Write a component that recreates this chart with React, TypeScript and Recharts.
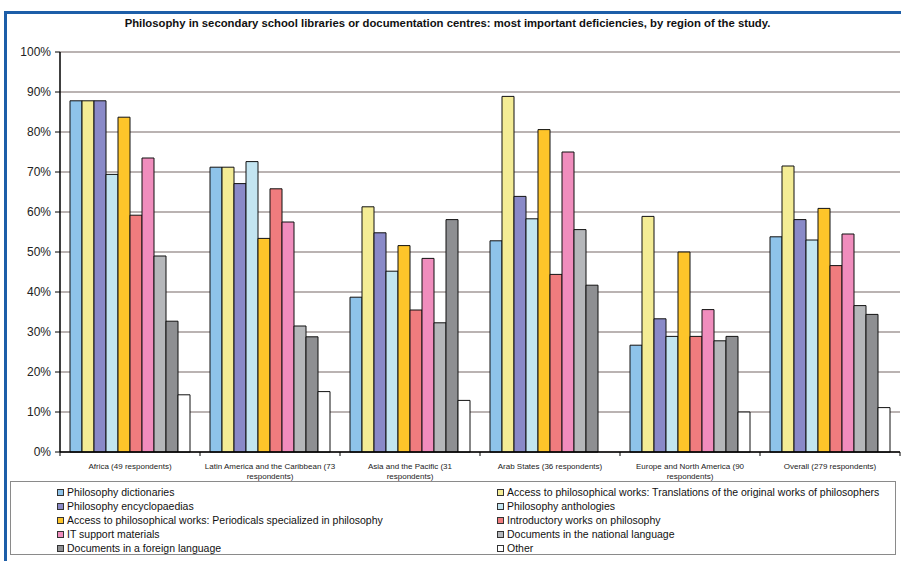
import React from "react";
import { BarChart, Bar, XAxis, YAxis, CartesianGrid } from "recharts";

const regions = [
  "Africa",
  "Latin America and the Caribbean",
  "Asia and the Pacific",
  "Arab States",
  "Europe and North America",
  "Overall",
];

// axis labels as printed, already wrapped the way the original wraps them
const regionLabels = [
  ["Africa (49 respondents)"],
  ["Latin America and the Caribbean (73", "respondents)"],
  ["Asia and the Pacific (31", "respondents)"],
  ["Arab States (36 respondents)"],
  ["Europe and North America (90", "respondents)"],
  ["Overall (279 respondents)"],
];

const yTicks = [0, 10, 20, 30, 40, 50, 60, 70, 80, 90, 100];

const seriesNames = [
  "Philosophy dictionaries",
  "Access to philosophical works: Translations of the original works of philosophers",
  "Philosophy encyclopaedias",
  "Philosophy anthologies",
  "Access to philosophical works: Periodicals specialized in philosophy",
  "Introductory works on philosophy",
  "IT support materials",
  "Documents in the national language",
  "Documents in a foreign language",
  "Other",
];

const dictionaries = [87.8, 71.2, 38.7, 52.8, 26.7, 53.8];
const translations = [87.8, 71.2, 61.3, 88.9, 58.9, 71.5];
const encyclopaedias = [87.8, 67.1, 54.8, 63.9, 33.3, 58.1];
const anthologies = [69.4, 72.6, 45.2, 58.3, 28.9, 53.0];
const periodicals = [83.7, 53.4, 51.6, 80.6, 50.0, 60.9];
const introductory = [59.2, 65.8, 35.5, 44.4, 28.9, 46.6];
const itSupport = [73.5, 57.5, 48.4, 75.0, 35.6, 54.5];
const nationalLang = [49.0, 31.5, 32.3, 55.6, 27.8, 36.6];
const foreignLang = [32.7, 28.8, 58.1, 41.7, 28.9, 34.4];
const other = [14.3, 15.1, 12.9, 0, 10.0, 11.1];

const seriesValues = [
  dictionaries,
  translations,
  encyclopaedias,
  anthologies,
  periodicals,
  introductory,
  itSupport,
  nationalLang,
  foreignLang,
  other,
];

const seriesColors = [
  "#8ec3ea",
  "#f4ec95",
  "#8a8ac8",
  "#c3e5f1",
  "#fec52a",
  "#f07c7e",
  "#f08dbd",
  "#b5b7ba",
  "#8e8f92",
  "#ffffff",
];

const FONT = "'Liberation Sans', Arial, sans-serif";
const CHART_W = 901;
const CHART_H = 561;
const PLOT_LEFT = 60;
const PLOT_RIGHT = 1;
const BAND = (CHART_W - PLOT_LEFT - PLOT_RIGHT) / regions.length;

const data = regions.map((region, i) => {
  const row: Record<string, string | number> = { region };
  seriesValues.forEach((vals, s) => {
    row[`s${s}`] = vals[i];
  });
  return row;
});

function RegionTick(props: any) {
  const { x, y, index } = props;
  const half = BAND / 2;
  const lines = regionLabels[index] ?? [];
  return (
    <g>
      <line x1={x - half} x2={x - half} y1={y} y2={y + 4} stroke="#000" />
      {index === regions.length - 1 && (
        <line x1={x + half} x2={x + half} y1={y} y2={y + 4} stroke="#000" />
      )}
      <text x={x} y={y + 17} textAnchor="middle" fontSize={8} fill="#222" fontFamily={FONT}>
        {lines.map((l, k) => (
          <tspan key={k} x={x} dy={k === 0 ? 0 : 10}>
            {l}
          </tspan>
        ))}
      </text>
    </g>
  );
}

export default function App() {
  return (
    <div
      style={{
        position: "absolute",
        left: 0,
        top: 0,
        width: CHART_W,
        height: CHART_H,
        background: "#fff",
        overflow: "hidden",
        fontFamily: FONT,
      }}
    >
      {/* blue frame of the scanned page */}
      <div style={{ position: "absolute", left: 4, top: 11, width: 3, height: 550, background: "#1d5ea8" }} />
      <div style={{ position: "absolute", left: 4, top: 11, width: 897, height: 3, background: "#1d5ea8" }} />

      <div
        style={{
          position: "absolute",
          left: 5,
          top: 17,
          width: 885,
          textAlign: "center",
          fontSize: 11.3,
          fontWeight: "bold",
          color: "#111",
          whiteSpace: "nowrap",
        }}
      >
        Philosophy in secondary school libraries or documentation centres: most important deficiencies, by region of
        the study.
      </div>

      <div style={{ position: "absolute", left: 0, top: 0 }}>
        <BarChart
          width={CHART_W}
          height={CHART_H}
          data={data}
          margin={{ top: 52, right: PLOT_RIGHT, bottom: 79, left: 0 }}
          barCategoryGap={10}
          barGap={0}
        >
          <CartesianGrid vertical={false} stroke="#766966" strokeWidth={1.2} />
          <XAxis
            dataKey="region"
            interval={0}
            height={30}
            tickSize={0}
            tickMargin={0}
            tickLine={false}
            axisLine={{ stroke: "#000", strokeWidth: 1.5 }}
            tick={<RegionTick />}
          />
          <YAxis
            width={PLOT_LEFT}
            domain={[0, 100]}
            ticks={yTicks}
            interval={0}
            tickFormatter={(v) => `${v}%`}
            tickSize={5}
            tickMargin={4}
            tickLine={{ stroke: "#000" }}
            axisLine={{ stroke: "#000", strokeWidth: 1.5 }}
            tick={{ fill: "#222", fontSize: 12, fontFamily: FONT }}
          />
          {seriesNames.map((name, s) => (
            <Bar
              key={name}
              dataKey={`s${s}`}
              name={name}
              fill={seriesColors[s]}
              stroke="#111"
              strokeWidth={1}
              isAnimationActive={false}
            />
          ))}
        </BarChart>
      </div>

      <div
        style={{
          position: "absolute",
          left: 10,
          top: 481,
          width: 886,
          height: 74,
          border: "1px solid #8a8a8a",
          boxSizing: "border-box",
          display: "grid",
          gridTemplateColumns: "440px 440px",
          gridAutoRows: "14px",
          paddingLeft: 46,
          paddingTop: 3,
          fontSize: 10.5,
          color: "#111",
        }}
      >
        {seriesNames.map((name, s) => (
          <div key={name} style={{ display: "flex", alignItems: "center", whiteSpace: "nowrap" }}>
            <span
              style={{
                display: "inline-block",
                width: 5,
                height: 5,
                border: "1px solid #333",
                background: seriesColors[s],
                marginRight: 3,
              }}
            />
            {name}
          </div>
        ))}
      </div>
    </div>
  );
}
